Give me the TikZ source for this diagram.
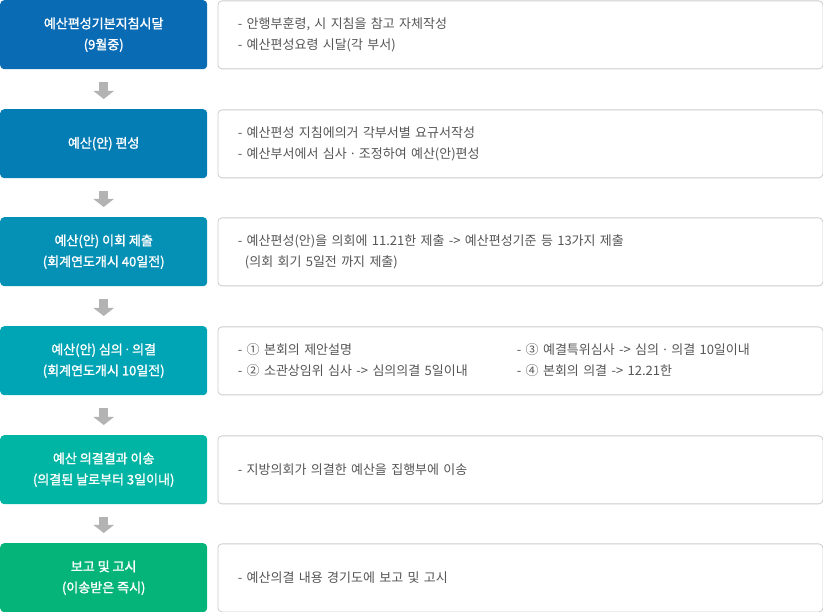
\documentclass[tikz,border=0pt]{standalone}
\usepackage{fontspec}
\setmainfont{Noto Sans CJK KR}
\newfontfamily\boldish[FakeBold=1.6]{Noto Sans CJK KR}
\newfontfamily\latinf{Noto Sans}
\newcommand{\mdot}{{\latinf ·}}
\usetikzlibrary{arrows.meta,calc}
\definecolor{cA}{HTML}{0A6BB5}
\definecolor{cB}{HTML}{047DB5}
\definecolor{cC}{HTML}{0591B5}
\definecolor{cD}{HTML}{00A5B5}
\definecolor{cE}{HTML}{00B5A4}
\definecolor{cF}{HTML}{05B478}
\definecolor{bordergray}{HTML}{CCCCCC}
\definecolor{txtgray}{HTML}{555555}
\definecolor{arrgray}{HTML}{B3B3B3}
\tikzset{
  stepbox/.style={rounded corners=4pt, fill=#1, text=white, font=\fontsize{13}{21}\selectfont\boldish,
    align=center, minimum width=207pt, minimum height=69pt, inner sep=0pt, anchor=north west},
  descbox/.style={draw=bordergray, line width=0.8pt, fill=white, rounded corners=4pt, text=txtgray,
    font=\fontsize{13}{21}\selectfont, align=left, text width=565pt, inner xsep=20pt, inner ysep=0pt,
    minimum height=68pt, anchor=north west},
  downarrow/.style={arrgray, line width=9pt, -{Triangle[width=20pt,length=8pt]}}
}
\begin{document}
\begin{tikzpicture}[x=1pt,y=-1pt]
\useasboundingbox (0,0) rectangle (823,612);
\node[stepbox=cA] (s1) at (0,0) {예산편성기본지침시달\\(9월중)};
\node[stepbox=cB] (s2) at (0,109) {예산(안) 편성};
\node[stepbox=cC] (s3) at (0,217) {예산(안) 이회 제출\\(회계연도개시 40일전)};
\node[stepbox=cD] (s4) at (0,326) {예산(안) 심의 \mdot{} 의결\\(회계연도개시 10일전)};
\node[stepbox=cE] (s5) at (0,435) {예산 의결결과 이송\\(의결된 날로부터 3일이내)};
\node[stepbox=cF] (s6) at (0,543) {보고 및 고시\\(이송받은 즉시)};

\node[descbox] (d1) at (217.5,0.5) {- 안행부훈령, 시 지침을 참고 자체작성\\- 예산편성요령 시달(각 부서)};
\node[descbox] (d2) at (217.5,109.5) {- 예산편성 지침에의거 각부서별 요규서작성\\- 예산부서에서 심사 \mdot{} 조정하여 예산(안)편성};
\node[descbox] (d3) at (217.5,217.5) {- 예산편성(안)을 의회에 11.21한 제출 -> 예산편성기준 등 13가지 제출\\\hspace*{7pt}(의회 회기 5일전 까지 제출)};
\node[descbox] (d4) at (217.5,326.5) {\begin{tabular}{@{}p{279pt}@{}l@{}}- ① 본회의 제안설명 & - ③ 예결특위심사 -> 심의 \mdot{} 의결 10일이내\\- ② 소관상임위 심사 -> 심의의결 5일이내 & - ④ 본회의 의결 -> 12.21한\end{tabular}};
\node[descbox] (d5) at (217.5,435.5) {- 지방의회가 의결한 예산을 집행부에 이송};
\node[descbox] (d6) at (217.5,543.5) {- 예산의결 내용 경기도에 보고 및 고시};

\draw[downarrow] ($(s1.south)+(0,13)$) -- ($(s2.north)+(0,-10)$);
\draw[downarrow] ($(s2.south)+(0,13)$) -- ($(s3.north)+(0,-10)$);
\draw[downarrow] ($(s3.south)+(0,13)$) -- ($(s4.north)+(0,-10)$);
\draw[downarrow] ($(s4.south)+(0,13)$) -- ($(s5.north)+(0,-10)$);
\draw[downarrow] ($(s5.south)+(0,13)$) -- ($(s6.north)+(0,-10)$);
\end{tikzpicture}
\end{document}
